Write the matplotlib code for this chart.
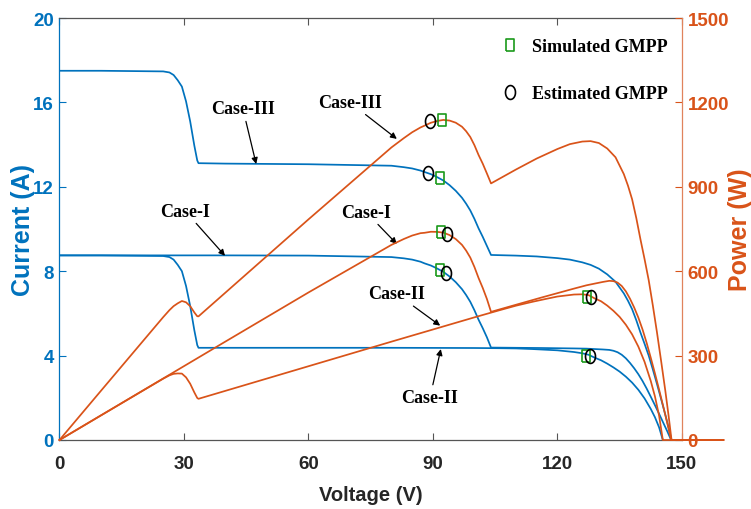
import numpy as np
import matplotlib
matplotlib.use("Agg")
import matplotlib.pyplot as plt
from matplotlib.lines import Line2D

# ---------------- data ----------------
# Case-III
V3 = [0, 10, 20, 25, 26.5, 27.5, 28.5, 29.5, 30.5, 31.5,
      32.5, 33.2, 33.5, 40, 60, 80, 83, 85, 87, 88,
      89.5, 91, 92.5, 94, 95.5, 97, 98, 99, 100, 101,
      102, 103, 104, 110, 115, 120, 123, 126, 128, 130,
      132, 134, 136, 137, 138, 139, 140, 141, 142, 143,
      144, 145, 146, 146.8, 147.5]
I3 = [17.5, 17.5, 17.48, 17.47, 17.42, 17.3, 17.05, 16.75, 16.05, 15.1,
      13.95, 13.25, 13.12, 13.1, 13.07, 13.0, 12.93, 12.87, 12.77, 12.7,
      12.6, 12.46, 12.3, 12.08, 11.81, 11.48, 11.2, 10.88, 10.48, 10.03,
      9.63, 9.2, 8.77, 8.74, 8.7, 8.62, 8.55, 8.42, 8.3, 8.12,
      7.85, 7.5, 6.95, 6.6, 6.2, 5.68, 5.1, 4.56, 4.0, 3.34,
      2.65, 1.93, 1.2, 0.58, 0]
P3 = [0, 175, 349.6, 436.8, 461.6, 475.8, 485.9, 494.1, 489.5, 475.7,
      453.4, 439.9, 439.5, 524, 784.2, 1040, 1073.2, 1094, 1111, 1117.6,
      1127.7, 1133.9, 1137.8, 1135.5, 1127.9, 1113.6, 1097.6, 1077.1, 1048, 1013,
      982.3, 947.6, 912.1, 961.4, 1000.5, 1034.4, 1051.7, 1060.9, 1062.4, 1055.6,
      1036.2, 1005, 945.2, 904.2, 855.6, 789.5, 714, 643, 568, 477.6,
      381.6, 279.9, 175.2, 85.1, 0]

# Case-I
V1 = [0, 20, 40, 60, 80, 83, 85, 87, 88, 89.5,
      91, 92.5, 94, 95.5, 97, 98, 99, 100, 101, 102,
      103, 104, 110, 116, 120, 124, 127, 129, 131, 132.5,
      133.5, 134.5, 135.5, 136.5, 137.5, 138.5, 139.5, 140.5, 141.5, 142.5,
      143.5, 144.5, 145.5, 146.5, 147.4]
I1 = [8.75, 8.75, 8.75, 8.74, 8.67, 8.61, 8.55, 8.45, 8.37, 8.27,
      8.13, 7.97, 7.75, 7.48, 7.15, 6.87, 6.55, 6.15, 5.7, 5.3,
      4.87, 4.38, 4.37, 4.36, 4.35, 4.34, 4.33, 4.31, 4.29, 4.27,
      4.23, 4.16, 4.04, 3.87, 3.65, 3.4, 3.12, 2.8, 2.44, 2.05,
      1.65, 1.24, 0.82, 0.4, 0]
P1 = [0, 175, 350, 524.4, 693.6, 714.6, 726.8, 735.2, 736.6, 740.2,
      739.8, 737.2, 728.5, 714.3, 693.6, 673.3, 648.5, 615, 575.7, 540.6,
      501.6, 455.5, 480.7, 505.8, 522, 538.2, 549.9, 556, 562, 565.8,
      564.7, 559.5, 547.4, 528.3, 501.9, 470.9, 435.2, 393.4, 345.3, 292.1,
      236.8, 179.2, 119.3, 58.6, 0]

# Case-II
V2 = [0, 10, 20, 25, 26.5, 27.5, 28.5, 29.5, 30.5, 31.5,
      32.5, 33.2, 33.5, 40, 60, 80, 100, 106, 110, 114,
      117, 120, 122, 124, 126, 127.5, 129, 130.5, 132, 133.5,
      135, 136.5, 138, 139.5, 141, 142.5, 143.5, 144.5, 145.4]
I2 = [8.75, 8.75, 8.73, 8.72, 8.67, 8.55, 8.3, 8.0, 7.3, 6.35,
      5.2, 4.5, 4.37, 4.37, 4.37, 4.37, 4.36, 4.35, 4.34, 4.31,
      4.28, 4.25, 4.21, 4.17, 4.11, 4.04, 3.9, 3.78, 3.62, 3.44,
      3.24, 3.0, 2.72, 2.38, 1.97, 1.47, 1.08, 0.6, 0]
P2 = [0, 87.5, 174.6, 218, 229.8, 235.1, 236.6, 236, 222.7, 200,
      169, 149.4, 146.4, 174.8, 262.2, 349.6, 436, 461.1, 477.4, 491.3,
      500.8, 510, 513.6, 517.1, 517.9, 515.1, 503.1, 493.3, 477.8, 459.2,
      437.4, 409.5, 375.4, 332, 277.8, 209.5, 155, 86.7, 0]

V_END = 160  # power traces continue at 0 W up to this voltage

# GMPP markers: (V, I) on current curves and (V, P) on power curves
sim_V_I = [91.8, 91.6, 127.0]
sim_I = [12.40, 8.07, 4.00]
sim_V_P = [92.2, 91.9, 127.1]
sim_P = [1139, 740, 507]
est_V_I = [88.9, 93.1, 127.9]
est_I = [12.65, 7.91, 3.97]
est_V_P = [89.2, 93.4, 128.1]
est_P = [1133, 732, 507]

x_ticks = [0, 30, 60, 90, 120, 150]
i_ticks = [0, 4, 8, 12, 16, 20]
p_ticks = [0, 300, 600, 900, 1200, 1500]

# annotations: text, text position (V, I), arrow tip (V, I)
annotations = [
    ("Case-III", (44.2, 15.7), (47.4, 13.08)),
    ("Case-III", (70.0, 16.0), (81.3, 14.27)),
    ("Case-I", (30.3, 10.85), (39.9, 8.73)),
    ("Case-I", (73.9, 10.8), (81.3, 9.29)),
    ("Case-II", (81.3, 6.92), (91.75, 5.42)),
    ("Case-II", (89.3, 2.02), (91.9, 4.31)),
]

# ---------------- style ----------------
BLUE = "#0072BD"
ORANGE = "#D95319"
GREEN = "#1A9A1A"
DARK = "#262626"
SANS = ["Liberation Sans Narrow", "Liberation Sans", "DejaVu Sans"]
SERIF = ["Liberation Serif", "DejaVu Serif"]

rect_marker = [(-0.33, -0.5), (0.33, -0.5), (0.33, 0.5), (-0.33, 0.5), (-0.33, -0.5)]
_t = np.linspace(0, 2 * np.pi, 41)
ell_marker = list(zip(0.36 * np.cos(_t), 0.5 * np.sin(_t)))

fig = plt.figure(figsize=(7.51, 5.10), dpi=100)
ax = fig.add_axes([0.0792, 0.1353, 0.8288, 0.8274])
ax2 = ax.twinx()

lw = 1.25
for V, I in [(V3, I3), (V1, I1), (V2, I2)]:
    ax.plot(V, I, color=BLUE, lw=lw, zorder=3, solid_joinstyle="round")
for V, P in [(V3, P3), (V1, P1), (V2, P2)]:
    ax2.plot(list(V) + [V_END], list(P) + [0], color=ORANGE, lw=lw, clip_on=False,
             zorder=3, solid_joinstyle="round")

msq = dict(marker=rect_marker, markersize=9, markerfacecolor="none", markeredgecolor=GREEN,
           markeredgewidth=1.2, linestyle="none", zorder=5)
mci = dict(marker=ell_marker, markersize=10, markerfacecolor="none", markeredgecolor="black",
           markeredgewidth=1.2, linestyle="none", zorder=5)
ax.plot(sim_V_I, sim_I, **msq)
ax.plot(est_V_I, est_I, **mci)
ax2.plot(sim_V_P, sim_P, **msq)
ax2.plot(est_V_P, est_P, **mci)

ax.set_xlim(0, 150)
ax.set_ylim(0, 20)
ax2.set_ylim(0, 1500)
ax.set_xticks(x_ticks)
ax.set_yticks(i_ticks)
ax2.set_yticks(p_ticks)

ax.set_zorder(1)
ax2.set_zorder(2)
ax2.patch.set_visible(False)

ax.spines["left"].set_color(BLUE)
ax.spines["bottom"].set_color("#555555")
ax.spines["top"].set_color("#555555")
ax.spines["right"].set_visible(False)
ax2.spines["right"].set_color("#E0835C")
for s in ("left", "top", "bottom"):
    ax2.spines[s].set_visible(False)
for s in ax.spines.values():
    s.set_linewidth(0.9)
ax2.spines["right"].set_linewidth(0.9)

ax.tick_params(axis="x", direction="in", top=True, length=5, width=0.8, color="#555555",
               labelcolor=DARK, labelsize=13.5, pad=11)
ax.tick_params(axis="y", direction="in", length=5, width=0.8, color=BLUE,
               labelcolor=BLUE, labelsize=13.5, pad=4)
ax2.tick_params(axis="y", direction="in", length=5, width=0.8, color=ORANGE,
                labelcolor=ORANGE, labelsize=13.5, pad=4)
for lab in ax.get_xticklabels() + ax.get_yticklabels() + ax2.get_yticklabels():
    lab.set_fontfamily(SANS)
    lab.set_fontweight("bold")

ax.set_xlabel("Voltage (V)", fontsize=14.5, fontweight="bold", color=DARK,
              family=SANS, labelpad=9)
ax.set_ylabel("Current (A)", fontsize=18, fontweight="bold", color=BLUE, family=SANS)
ax2.set_ylabel("Power (W)", fontsize=18, fontweight="bold", color=ORANGE, family=SANS)
ax.yaxis.set_label_coords(-0.040, 0.5)
ax2.yaxis.set_label_coords(1.074, 0.5)

for txt, tpos, tip in annotations:
    ax.annotate(txt, xy=tip, xytext=tpos, ha="center", va="center",
                fontsize=13, fontweight="bold", family=SERIF, color="black",
                arrowprops=dict(arrowstyle="-|>", color="black", lw=0.9,
                                shrinkA=1, shrinkB=0, mutation_scale=9),
                zorder=6)

handles = [Line2D([], [], **msq), Line2D([], [], **mci)]
ax2.legend(handles, ["Simulated GMPP", "Estimated GMPP"], loc="upper left",
           bbox_to_anchor=(0.695, 0.973), frameon=False, numpoints=1,
           handlelength=1.0, handletextpad=0.7, labelspacing=1.65, borderpad=0,
           prop=dict(family=SERIF, weight="bold", size=13))

fig.savefig("out.png", dpi=100)
